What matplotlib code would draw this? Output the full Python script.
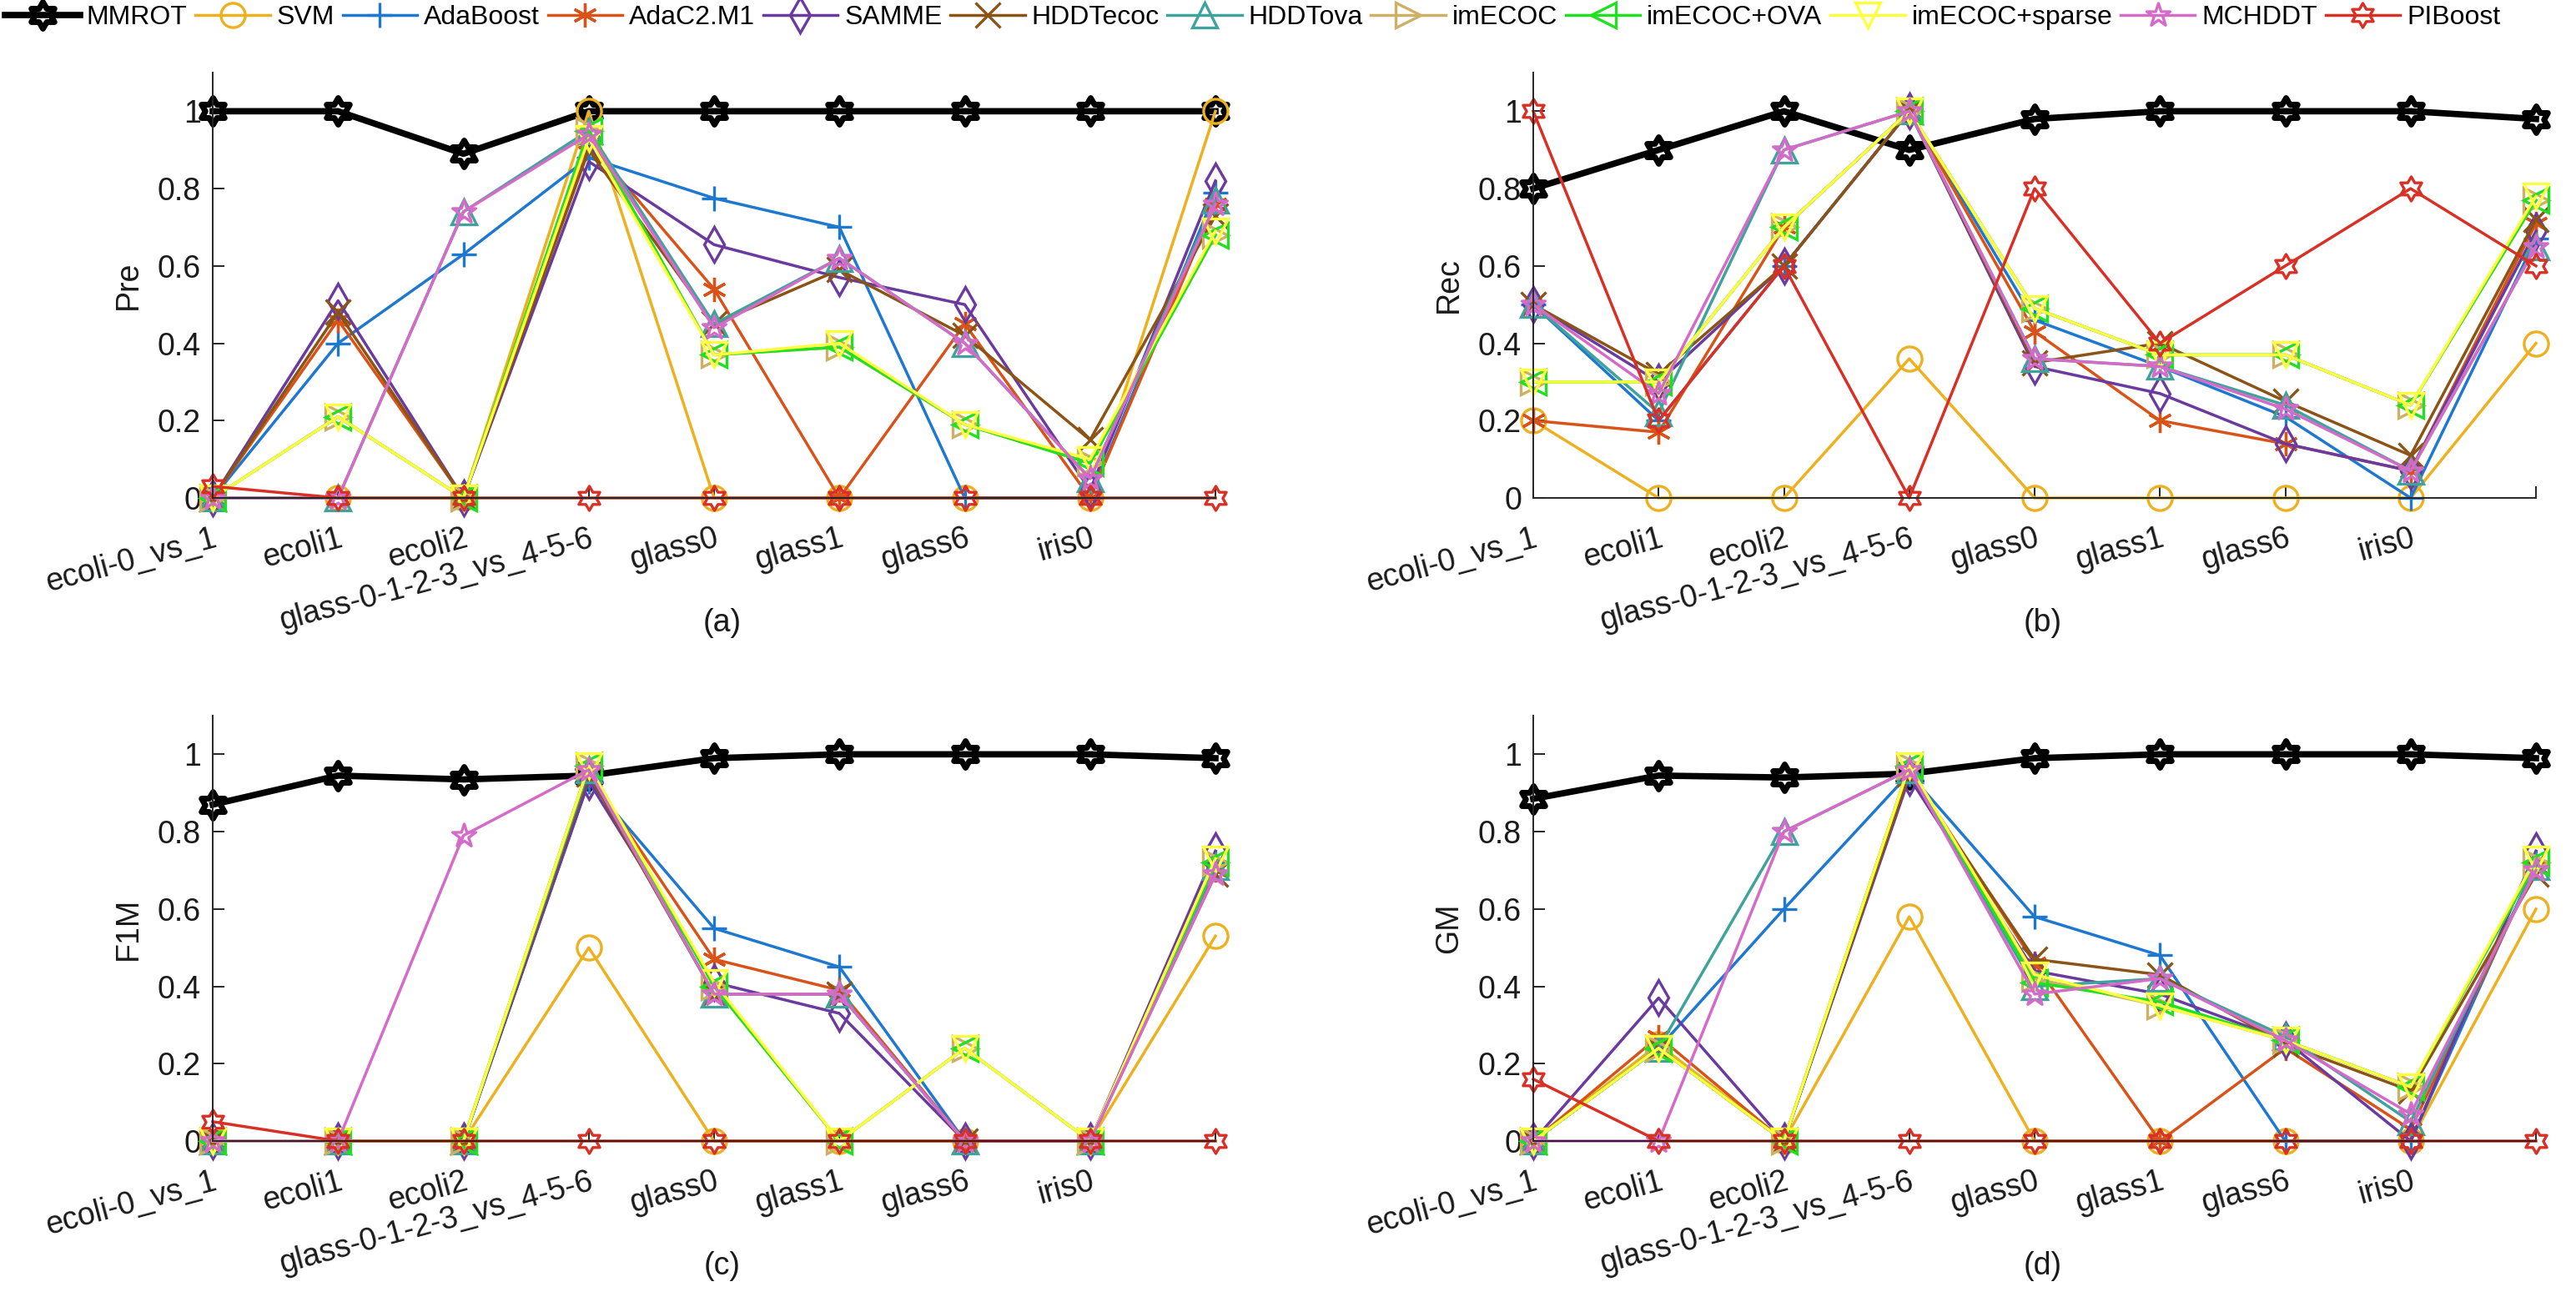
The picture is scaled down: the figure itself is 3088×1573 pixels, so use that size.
import numpy as np
import matplotlib
matplotlib.use("Agg")
import matplotlib.pyplot as plt
from matplotlib.path import Path

plt.rcParams['font.family'] = ['Liberation Sans', 'DejaVu Sans']

methods = ["MMROT", "SVM", "AdaBoost", "AdaC2.M1", "SAMME", "HDDTecoc", "HDDTova",
           "imECOC", "imECOC+OVA", "imECOC+sparse", "MCHDDT", "PIBoost"]
datasets = ["ecoli-0_vs_1", "ecoli1", "ecoli2", "glass-0-1-2-3_vs_4-5-6",
            "glass0", "glass1", "glass6", "iris0"]
x_vals = [1, 2, 3, 4, 5, 6, 7, 8, 9]

pre = [
    [1, 1, 0.89, 1, 1, 1, 1, 1, 1],
    [0, 0, 0, 1.0, 0, 0, 0, 0, 1.0],
    [0, 0.40, 0.63, 0.88, 0.775, 0.70, 0, 0, 0.79],
    [0, 0.46, 0, 0.92, 0.54, 0, 0.45, 0, 0.76],
    [0, 0.51, 0, 0.87, 0.655, 0.57, 0.50, 0.02, 0.82],
    [0, 0.48, 0, 0.90, 0.45, 0.59, 0.42, 0.15, 0.73],
    [0, 0, 0.74, 0.95, 0.45, 0.62, 0.40, 0.05, 0.77],
    [0, 0.21, 0, 0.95, 0.37, 0.39, 0.19, 0.09, 0.68],
    [0, 0.21, 0, 0.95, 0.37, 0.39, 0.19, 0.09, 0.68],
    [0, 0.21, 0, 0.93, 0.37, 0.40, 0.19, 0.10, 0.69],
    [0, 0, 0.74, 0.94, 0.44, 0.62, 0.40, 0.05, 0.76],
    [0.03, 0, 0, 0, 0, 0, 0, 0, 0],
]
rec = [
    [0.8, 0.9, 1.0, 0.9, 0.98, 1.0, 1.0, 1.0, 0.98],
    [0.2, 0, 0, 0.36, 0, 0, 0, 0, 0.4],
    [0.5, 0.2, 0.6, 1.0, 0.46, 0.34, 0.21, 0, 0.67],
    [0.2, 0.17, 0.7, 1.0, 0.43, 0.2, 0.14, 0.07, 0.71],
    [0.5, 0.3, 0.6, 1.0, 0.34, 0.27, 0.14, 0.07, 0.69],
    [0.5, 0.32, 0.6, 1.0, 0.35, 0.4, 0.25, 0.11, 0.72],
    [0.5, 0.22, 0.9, 1.0, 0.36, 0.34, 0.24, 0.07, 0.65],
    [0.3, 0.3, 0.7, 1.0, 0.49, 0.37, 0.37, 0.24, 0.77],
    [0.3, 0.3, 0.7, 1.0, 0.49, 0.37, 0.37, 0.24, 0.77],
    [0.3, 0.3, 0.7, 1.0, 0.49, 0.37, 0.37, 0.24, 0.78],
    [0.5, 0.27, 0.9, 1.0, 0.36, 0.34, 0.23, 0.07, 0.65],
    [1.0, 0.2, 0.6, 0, 0.8, 0.4, 0.6, 0.8, 0.6],
]
f1m = [
    [0.87, 0.945, 0.935, 0.945, 0.99, 1.0, 1.0, 1.0, 0.99],
    [0, 0, 0, 0.5, 0, 0, 0, 0, 0.53],
    [0, 0, 0, 0.93, 0.55, 0.45, 0, 0, 0.72],
    [0, 0, 0, 0.95, 0.47, 0.39, 0, 0, 0.70],
    [0, 0, 0, 0.93, 0.41, 0.33, 0, 0, 0.75],
    [0, 0, 0, 0.95, 0.38, 0.38, 0, 0, 0.69],
    [0, 0, 0, 0.96, 0.38, 0.38, 0, 0, 0.71],
    [0, 0, 0, 0.97, 0.40, 0, 0.24, 0, 0.72],
    [0, 0, 0, 0.97, 0.40, 0, 0.24, 0, 0.72],
    [0, 0, 0, 0.97, 0.41, 0, 0.24, 0, 0.73],
    [0, 0, 0.79, 0.96, 0.38, 0.38, 0, 0, 0.69],
    [0.05, 0, 0, 0, 0, 0, 0, 0, 0],
]
gm = [
    [0.885, 0.945, 0.94, 0.95, 0.99, 1.0, 1.0, 1.0, 0.99],
    [0, 0.25, 0, 0.58, 0, 0, 0, 0, 0.60],
    [0, 0.24, 0.60, 0.95, 0.58, 0.48, 0, 0, 0.72],
    [0, 0.27, 0, 0.96, 0.46, 0, 0.24, 0.03, 0.71],
    [0, 0.37, 0, 0.94, 0.44, 0.38, 0.26, 0, 0.75],
    [0, 0.24, 0, 0.95, 0.47, 0.43, 0.25, 0.13, 0.69],
    [0, 0.24, 0.80, 0.96, 0.40, 0.42, 0.27, 0.05, 0.71],
    [0, 0.24, 0, 0.97, 0.42, 0.35, 0.26, 0.14, 0.72],
    [0, 0.24, 0, 0.97, 0.41, 0.36, 0.26, 0.14, 0.72],
    [0, 0.24, 0, 0.97, 0.43, 0.35, 0.26, 0.14, 0.73],
    [0, 0, 0.80, 0.96, 0.38, 0.42, 0.26, 0.07, 0.70],
    [0.16, 0, 0, 0, 0, 0, 0, 0, 0],
]
panels = [("Pre", "(a)", pre), ("Rec", "(b)", rec), ("F1M", "(c)", f1m), ("GM", "(d)", gm)]

# styles
hexagram = Path.unit_regular_star(6, 0.577)
pentagram = Path.unit_regular_star(5, 0.382)
colors = ["#000000", "#EDB120", "#1F78D0", "#D95319", "#6A3A9E", "#8B5416", "#3FA39C",
          "#CDB063", "#20E020", "#FFFF40", "#D56BC8", "#D93025"]
markers = [hexagram, "o", "+", (6, 2, 0), "d", "x", "^", ">", "<", "v", pentagram, hexagram]

W, H = 3088, 1573
fig = plt.figure(figsize=(W / 100, H / 100), dpi=100)

ax_w = 1202 / W
ax_h = 510 / H
lefts = [255 / W, 1838 / W]
bottoms = [1 - 597 / H, 1 - 1368 / H]
positions = [(lefts[0], bottoms[0]), (lefts[1], bottoms[0]), (lefts[0], bottoms[1]), (lefts[1], bottoms[1])]

axcol = "#262626"
txtcol = "#1a1a1a"
handles = []
for p, (ylab, tag, data) in enumerate(panels):
    l, b = positions[p]
    ax = fig.add_axes([l, b, ax_w, ax_h])
    for i, m in enumerate(methods):
        if i == 0:
            lw, ms, mew = 5.5, 23, 5.0
        else:
            lw, ms, mew = 2.5, 21, 2.4
        mk = markers[i]
        ln, = ax.plot(x_vals, data[i], color=colors[i], lw=lw, marker=mk, ms=ms,
                      mew=mew, mfc="none", mec=colors[i], clip_on=False, zorder=2 + i * 0.01,
                      label=m)
        if p == 0:
            handles.append(ln)
    ax.set_xlim(1, 9)
    ax.set_ylim(0, 1.1)
    ax.set_yticks([0, 0.2, 0.4, 0.6, 0.8, 1])
    ax.set_yticklabels(["0", "0.2", "0.4", "0.6", "0.8", "1"])
    ax.set_xticks(x_vals)
    ax.set_xticklabels(datasets + [""], rotation=15, ha="right", va="top",
                       rotation_mode="anchor")
    for s in ["top", "right"]:
        ax.spines[s].set_visible(False)
    for s in ["left", "bottom"]:
        ax.spines[s].set_color(axcol)
        ax.spines[s].set_linewidth(1.4)
    ax.tick_params(axis="both", direction="in", length=10, width=1.4, colors=axcol,
                   labelsize=27, labelcolor=txtcol)
    ax.tick_params(axis="y", pad=10)
    ax.tick_params(axis="x", pad=22)
    ax.set_ylabel(ylab, fontsize=27, color=txtcol, labelpad=12)
    ax.patch.set_visible(False)
    fig.text(l + ax_w / 2 + 10 / W, b - 150 / H, tag, fontsize=27, ha="center", va="center",
             color=txtcol)

fig.legend(handles=handles, labels=methods, loc="upper left", bbox_to_anchor=(0.0, 1.0),
           ncol=12, frameon=False, fontsize=23, handlelength=2.8, handletextpad=0.25,
           columnspacing=0.3, borderaxespad=0.0, borderpad=0.2)

fig.savefig("out.png", dpi=100, facecolor="white")
